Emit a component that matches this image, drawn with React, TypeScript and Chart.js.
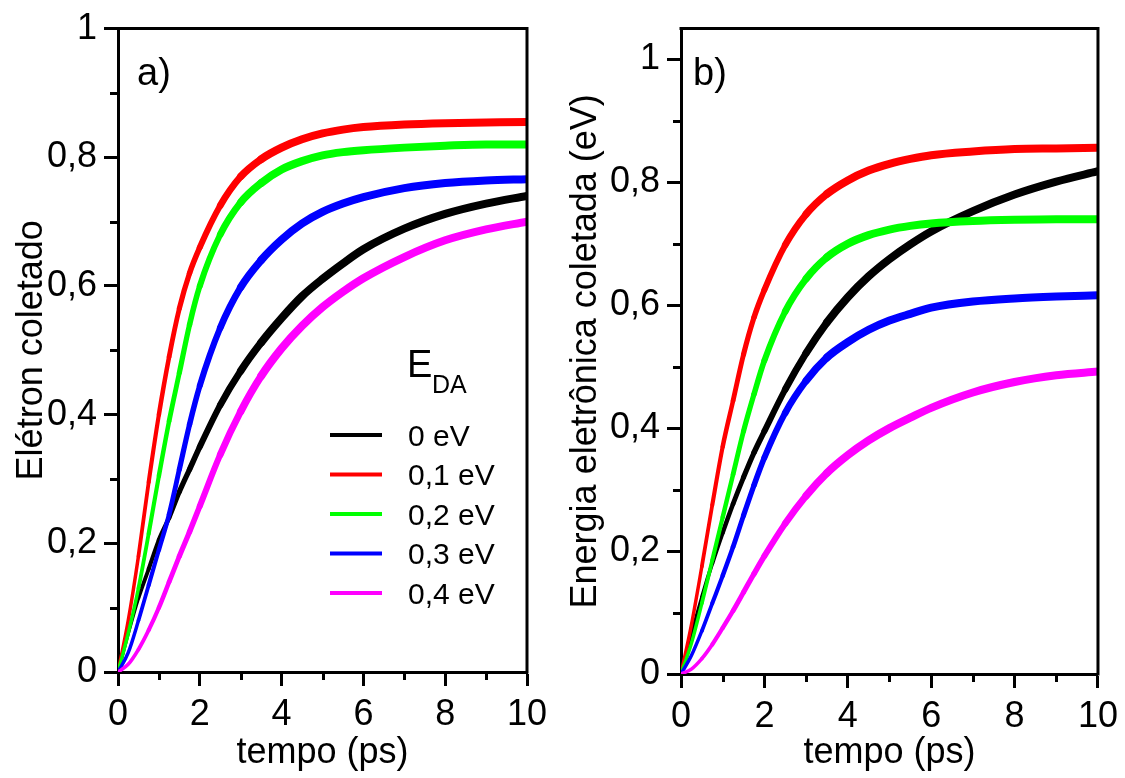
import React, { useEffect, useRef } from "react";
import { Chart, registerables } from "chart.js";

Chart.register(...registerables);

const FONT = "'Liberation Sans', Arial, Helvetica, sans-serif";

// ---- data ----
const TIME = [0, 0.25, 0.5, 0.75, 1, 1.25, 1.5, 1.75, 2, 2.5, 3, 3.5, 4, 4.5, 5, 5.5, 6, 7, 8, 9, 10];
const SERIES_LABELS = ["0 eV", "0,1 eV", "0,2 eV", "0,3 eV", "0,4 eV"];
const COLORS = ["#000000", "#ff0000", "#00ff00", "#0000ff", "#ff00ff"];

// panel a) Elétron coletado
const A_E00 = [0, 0.06, 0.115, 0.16, 0.205, 0.24, 0.28, 0.315, 0.35, 0.415, 0.468, 0.512, 0.55, 0.584, 0.611, 0.635, 0.657, 0.689, 0.712, 0.728, 0.74];
const A_E01 = [0, 0.08, 0.18, 0.295, 0.4, 0.49, 0.565, 0.62, 0.66, 0.725, 0.77, 0.797, 0.815, 0.828, 0.837, 0.843, 0.847, 0.851, 0.853, 0.854, 0.855];
const A_E02 = [0, 0.06, 0.13, 0.215, 0.305, 0.39, 0.465, 0.54, 0.6, 0.68, 0.73, 0.76, 0.781, 0.794, 0.803, 0.808, 0.811, 0.815, 0.818, 0.82, 0.82];
const A_E03 = [0, 0.03, 0.08, 0.135, 0.19, 0.245, 0.315, 0.385, 0.445, 0.535, 0.598, 0.64, 0.672, 0.697, 0.715, 0.728, 0.738, 0.752, 0.76, 0.764, 0.766];
const A_E04 = [0, 0.012, 0.035, 0.065, 0.1, 0.14, 0.18, 0.218, 0.258, 0.338, 0.405, 0.46, 0.503, 0.538, 0.567, 0.591, 0.612, 0.645, 0.671, 0.688, 0.7];

// panel b) Energia eletrônica coletada (eV)
const B_E00 = [0, 0.065, 0.125, 0.18, 0.23, 0.277, 0.32, 0.36, 0.395, 0.463, 0.522, 0.572, 0.613, 0.647, 0.675, 0.699, 0.72, 0.753, 0.78, 0.801, 0.818];
const B_E01 = [0, 0.08, 0.175, 0.275, 0.37, 0.445, 0.52, 0.58, 0.625, 0.698, 0.748, 0.781, 0.803, 0.819, 0.83, 0.838, 0.844, 0.85, 0.854, 0.855, 0.856];
const B_E02 = [0, 0.05, 0.115, 0.185, 0.255, 0.325, 0.395, 0.455, 0.51, 0.59, 0.643, 0.678, 0.7, 0.714, 0.723, 0.729, 0.733, 0.737, 0.739, 0.74, 0.74];
const B_E03 = [0, 0.03, 0.07, 0.115, 0.16, 0.207, 0.258, 0.307, 0.352, 0.425, 0.477, 0.515, 0.54, 0.56, 0.575, 0.586, 0.596, 0.606, 0.611, 0.614, 0.616];
const B_E04 = [0, 0.008, 0.025, 0.048, 0.075, 0.103, 0.133, 0.163, 0.192, 0.245, 0.29, 0.327, 0.356, 0.38, 0.4, 0.417, 0.433, 0.458, 0.475, 0.486, 0.492];

const X_TICKS = [0, 2, 4, 6, 8, 10];
const X_MINOR = [1, 3, 5, 7, 9];
const Y_TICKS = [0, 0.2, 0.4, 0.6, 0.8, 1];
const Y_MINOR = [0.1, 0.3, 0.5, 0.7, 0.9];

const LEGEND_TITLE = "E";
const LEGEND_SUB = "DA";

function fmt(v: number): string {
  const r = Math.round(v * 10) / 10;
  return String(r).replace(".", ",");
}

function widthAt(t: number): number {
  return t < 0.4 ? 3.5 : Math.min(8, 3.5 + (t - 0.4) * 1.4);
}

const decor = {
  id: "decor",
  afterDraw(chart: any, _args: any, opts: any) {
    const { ctx, chartArea, scales } = chart;
    const { left, right, top, bottom } = chartArea;
    const x = scales.x;
    const y = scales.y;
    ctx.save();
    ctx.strokeStyle = "#000";
    ctx.lineWidth = 3;
    ctx.lineCap = "butt";
    ctx.beginPath();
    ctx.moveTo(left - 1.5, top);
    ctx.lineTo(right, top);
    ctx.lineTo(right, bottom + 1.5);
    ctx.stroke();
    for (const v of Y_MINOR) {
      const py = Math.round(y.getPixelForValue(v)) + 0.5;
      ctx.beginPath();
      ctx.moveTo(left, py);
      ctx.lineTo(left - 8, py);
      ctx.stroke();
    }
    for (const v of X_MINOR) {
      const px = Math.round(x.getPixelForValue(v)) + 0.5;
      ctx.beginPath();
      ctx.moveTo(px, bottom);
      ctx.lineTo(px, bottom + 8);
      ctx.stroke();
    }
    ctx.fillStyle = "#000";
    ctx.textAlign = "left";
    ctx.textBaseline = "alphabetic";
    ctx.font = `38px ${FONT}`;
    ctx.fillText(opts.tag, opts.tagX, opts.tagY);

    if (opts.legend) {
      ctx.font = `38px ${FONT}`;
      ctx.fillText(LEGEND_TITLE, 407, 377);
      ctx.font = `25px ${FONT}`;
      ctx.fillText(LEGEND_SUB, 432, 393);
      ctx.font = `30px ${FONT}`;
      chart.data.datasets.forEach((ds: any, i: number) => {
        const cy = 435 + i * 39.5;
        ctx.strokeStyle = ds.borderColor;
        ctx.lineWidth = 4;
        ctx.beginPath();
        ctx.moveTo(330, cy);
        ctx.lineTo(382, cy);
        ctx.stroke();
        ctx.fillStyle = "#000";
        ctx.fillText(ds.label, 408, cy + 10.5);
      });
    }
    ctx.restore();
  },
};

type PanelSpec = {
  series: number[][];
  yTitle: string;
  yMax: number;
  yWidth: number;
  xHeight: number;
  padRight: number;
  yTitlePad: number;
  tag: string;
  tagX: number;
  tagY: number;
  legend: boolean;
};

function buildConfig(spec: PanelSpec): any {
  const datasets = spec.series.map((vals, i) => ({
    label: SERIES_LABELS[i],
    data: TIME.map((t, j) => ({ x: t, y: vals[j] })),
    borderColor: COLORS[i],
    backgroundColor: COLORS[i],
    borderWidth: 3.5,
    pointRadius: 0,
    pointHoverRadius: 0,
    cubicInterpolationMode: "monotone",
    borderCapStyle: "round",
    borderJoinStyle: "round",
    order: SERIES_LABELS.length - i,
    segment: {
      borderWidth: (c: any) => widthAt((c.p0.parsed.x + c.p1.parsed.x) / 2),
    },
  }));
  return {
    type: "line",
    data: { datasets },
    plugins: [decor],
    options: {
      animation: false,
      responsive: false,
      devicePixelRatio: 1,
      layout: { padding: { left: 0, top: 18, right: spec.padRight, bottom: 0 } },
      plugins: {
        legend: { display: false },
        tooltip: { enabled: false },
        decor: { tag: spec.tag, tagX: spec.tagX, tagY: spec.tagY, legend: spec.legend },
      },
      scales: {
        x: {
          type: "linear",
          min: 0,
          max: 10,
          afterBuildTicks: (s: any) => {
            s.ticks = X_TICKS.map((v) => ({ value: v }));
          },
          afterFit: (s: any) => {
            s.height = spec.xHeight;
          },
          ticks: {
            autoSkip: false,
            maxRotation: 0,
            color: "#000",
            padding: 7,
            font: { family: FONT, size: 36 },
            callback: (v: any) => fmt(Number(v)),
          },
          grid: {
            drawOnChartArea: false,
            drawTicks: true,
            tickLength: 14,
            tickWidth: 3,
            tickColor: "#000",
          },
          border: { display: true, width: 3, color: "#000" },
          title: {
            display: true,
            text: "tempo (ps)",
            color: "#000",
            font: { family: FONT, size: 36 },
            padding: { top: 0, bottom: 3 },
          },
        },
        y: {
          type: "linear",
          min: 0,
          max: spec.yMax,
          afterBuildTicks: (s: any) => {
            s.ticks = Y_TICKS.map((v) => ({ value: v }));
          },
          afterFit: (s: any) => {
            s.width = spec.yWidth;
          },
          ticks: {
            autoSkip: false,
            color: "#000",
            padding: 7,
            font: { family: FONT, size: 36 },
            callback: (v: any) => fmt(Number(v)),
          },
          grid: {
            drawOnChartArea: false,
            drawTicks: true,
            tickLength: 14,
            tickWidth: 3,
            tickColor: "#000",
          },
          border: { display: true, width: 3, color: "#000" },
          title: {
            display: true,
            text: spec.yTitle,
            color: "#000",
            font: { family: FONT, size: 36 },
            padding: { top: spec.yTitlePad, bottom: 0 },
          },
        },
      },
    },
  };
}

function Panel(props: { spec: PanelSpec; left: number; width: number }) {
  const ref = useRef<HTMLCanvasElement | null>(null);
  useEffect(() => {
    if (!ref.current) return;
    const chart = new Chart(ref.current, buildConfig(props.spec));
    return () => chart.destroy();
  }, []);
  return (
    <canvas
      ref={ref}
      width={props.width}
      height={778}
      style={{ position: "absolute", left: props.left, top: 0, width: props.width, height: 778 }}
    />
  );
}

const SPEC_A: PanelSpec = {
  series: [A_E00, A_E01, A_E02, A_E03, A_E04],
  yTitle: "Elétron coletado",
  yMax: 1,
  yWidth: 118,
  xHeight: 106,
  padRight: 28,
  yTitlePad: 10,
  tag: "a)",
  tagX: 137,
  tagY: 85,
  legend: true,
};

const SPEC_B: PanelSpec = {
  series: [B_E00, B_E01, B_E02, B_E03, B_E04],
  yTitle: "Energia eletrônica coletada (eV)",
  yMax: 1.05,
  yWidth: 126,
  xHeight: 104,
  padRight: 27,
  yTitlePad: 9,
  tag: "b)",
  tagX: 138,
  tagY: 85,
  legend: false,
};

export default function App() {
  return (
    <div style={{ position: "fixed", left: 0, top: 0, width: 1125, height: 778, background: "#fff", overflow: "hidden" }}>
      <Panel spec={SPEC_A} left={0} width={555} />
      <Panel spec={SPEC_B} left={555} width={570} />
    </div>
  );
}
